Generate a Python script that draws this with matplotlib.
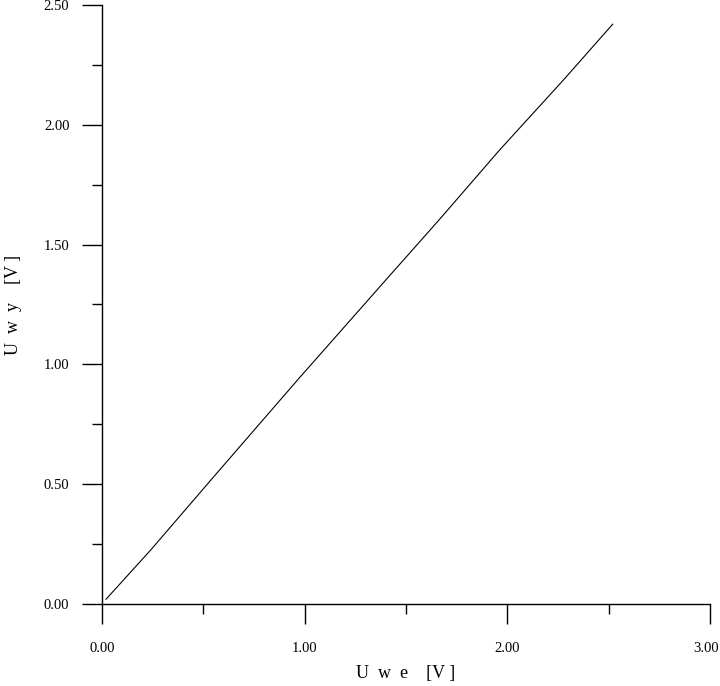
import matplotlib
matplotlib.use("Agg")
import matplotlib.pyplot as plt
import matplotlib.transforms as mtransforms
from matplotlib.ticker import FixedLocator, MultipleLocator

u_we = [0.02, 0.24, 0.54, 0.97, 1.40, 1.66, 1.96, 2.28, 2.52]
u_wy = [0.02, 0.225, 0.52, 0.94, 1.352, 1.60, 1.893, 2.19, 2.42]

x_ticks = [0.0, 1.0, 2.0, 3.0]
x_labels = ["0.00", "1.00", "2.00", "3.00"]
y_ticks = [0.0, 0.5, 1.0, 1.5, 2.0, 2.5]
y_labels = ["0.00", "0.50", "1.00", "1.50", "2.00", "2.50"]
x_title = "U  w  e    [V ]"
y_title = "U  w  y    [V ]"

fam = ["Liberation Serif", "DejaVu Serif"]

fig = plt.figure(figsize=(7.2, 6.86), dpi=100)
ax = fig.add_axes([102/720, 1-604/686, (710-102)/720, (604-5)/686])
ax.plot(u_we, u_wy, color="black", lw=0.8)
ax.set_xlim(0, 3.0)
ax.set_ylim(0, 2.5)
for s in ["top", "right"]:
    ax.spines[s].set_visible(False)
for s in ["left", "bottom"]:
    ax.spines[s].set_linewidth(1.0)

ax.xaxis.set_major_locator(FixedLocator(x_ticks))
ax.set_xticklabels(x_labels)
ax.xaxis.set_minor_locator(MultipleLocator(0.5))
ax.yaxis.set_major_locator(FixedLocator(y_ticks))
ax.set_yticklabels(y_labels)
ax.yaxis.set_minor_locator(MultipleLocator(0.25))
ax.tick_params(which="major", length=14.4, width=1.0, direction="out")
ax.tick_params(which="minor", length=7.2, width=1.0, direction="out")
ax.tick_params(axis="x", which="major", pad=13)
ax.tick_params(axis="y", which="major", pad=9)
for lab in ax.get_xticklabels() + ax.get_yticklabels():
    lab.set_family(fam)
    lab.set_fontsize(10.5)
last = ax.get_xticklabels()[-1]
last.set_transform(last.get_transform() + mtransforms.ScaledTranslation(-4/100, 0, fig.dpi_scale_trans))
ax.set_xlabel(x_title, family=fam, fontsize=13, labelpad=7)
ax.set_ylabel(y_title, family=fam, fontsize=13, labelpad=16)
fig.savefig("out.png", dpi=100)
